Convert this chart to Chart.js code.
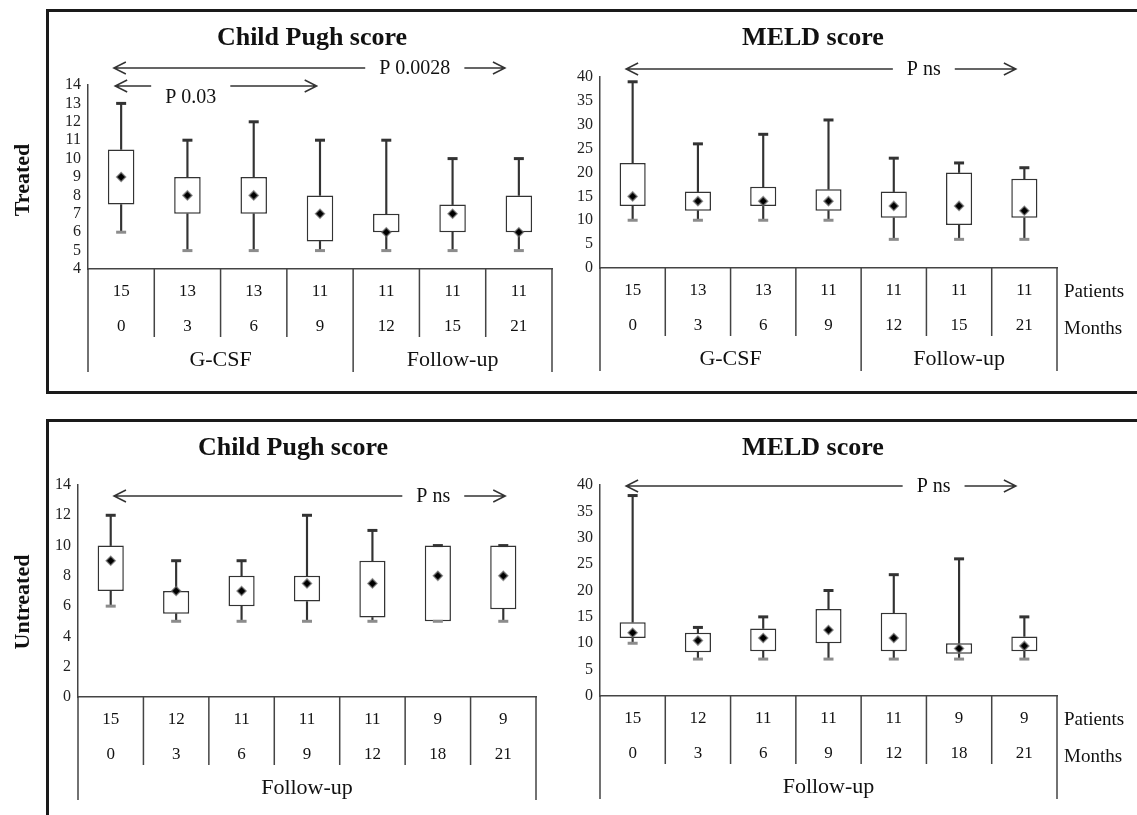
<!DOCTYPE html>
<html lang="en">
<head>
  <meta charset="UTF-8">
  <title>Child Pugh and MELD score</title>
  <script src="https://cdn.jsdelivr.net/npm/chart.js"></script>
  <style>
    body { margin: 0; width: 1137px; height: 815px; overflow: hidden; background: #fff; position: relative; font-family: "Liberation Serif", serif; color: #111; }
    .frame { position: absolute; left: 46px; width: 1110px; border: 3px solid #1a1a1a; border-right: none; }
    #frameTop { top: 9px; height: 379px; }
    #frameBottom { top: 419px; height: 420px; border-bottom: none; }
    .side { position: absolute; width: 120px; height: 26px; line-height: 26px; text-align: center; font-weight: bold; font-size: 22px; transform: rotate(-90deg); will-change: transform; }
    canvas { position: absolute; }
  </style>
</head>
<body>
  <div class="frame" id="frameTop"></div>
  <div class="frame" id="frameBottom"></div>
  <div class="side" style="left:-38px; top:167px;">Treated</div>
  <div class="side" style="left:-38px; top:589px;">Untreated</div>

  <canvas id="cpTreated" width="510" height="375" style="left:50px; top:14px;"></canvas>
  <canvas id="meldTreated" width="577" height="375" style="left:560px; top:14px;"></canvas>
  <canvas id="cpUntreated" width="510" height="385" style="left:50px; top:424px;"></canvas>
  <canvas id="meldUntreated" width="577" height="385" style="left:560px; top:424px;"></canvas>

  <script>
    // table rows
    const monthsTreated = ['0', '3', '6', '9', '12', '15', '21'];
    const patientsTreated = [15, 13, 13, 11, 11, 11, 11];
    const groupsTreated = ['G-CSF', 'Follow-up'];
    const groupSizesTreated = [4, 3];

    const monthsUntreated = ['0', '3', '6', '9', '12', '18', '21'];
    const patientsUntreated = [15, 12, 11, 11, 11, 9, 9];
    const groupsUntreated = ['Follow-up'];
    const groupSizesUntreated = [7];

    // Child Pugh, treated
    const cpTreatedMin = [6, 5, 5, 5, 5, 5, 5];
    const cpTreatedQ1 = [7.5, 7, 7, 5.5, 6, 6, 6];
    const cpTreatedQ3 = [10.5, 9, 9, 8, 7, 7.5, 8];
    const cpTreatedMax = [13, 11, 12, 11, 11, 10, 10];
    const cpTreatedMean = [9, 8, 8, 7, 6, 7, 6];

    // MELD, treated
    const meldTreatedMin = [10, 10, 10, 10, 6, 6, 6];
    const meldTreatedQ1 = [13, 12, 13, 12, 10.5, 9, 10.5];
    const meldTreatedQ3 = [22, 16, 17, 16.5, 16, 20, 18.7];
    const meldTreatedMax = [39, 26, 28, 31, 23, 22, 21];
    const meldTreatedMean = [15, 14, 14, 14, 13, 13, 12];

    // Child Pugh, untreated
    const cpUntreatedMin = [6, 5, 5, 5, 5, 5, 5];
    const cpUntreatedQ1 = [7, 5.5, 6, 6.3, 5.25, 5, 5.8];
    const cpUntreatedQ3 = [10, 7, 8, 8, 9, 10, 10];
    const cpUntreatedMax = [12, 9, 9, 12, 11, 10, 10];
    const cpUntreatedMean = [9, 7, 7, 7.5, 7.5, 8, 8];

    // MELD, untreated
    const meldUntreatedMin = [10, 7, 7, 7, 7, 7, 7];
    const meldUntreatedQ1 = [11, 8.3, 8.5, 10, 8.5, 8, 8.5];
    const meldUntreatedQ3 = [14, 12, 12.8, 16.5, 15.8, 10, 11.3];
    const meldUntreatedMax = [38, 13, 15, 20, 23, 26, 15];
    const meldUntreatedMean = [12, 10.5, 11, 12.5, 11, 9, 9.5];

    const serif = '"Liberation Serif", "Times New Roman", serif';

    function drawArrow(ctx, x1, x2, y, label, tx, textDy) {
      ctx.font = '20px ' + serif;
      const w = ctx.measureText(label).width;
      const gap = 14;
      ctx.beginPath();
      ctx.moveTo(x1, y); ctx.lineTo(tx - w / 2 - gap, y);
      ctx.moveTo(tx + w / 2 + gap, y); ctx.lineTo(x2, y);
      ctx.moveTo(x1 + 12, y - 6); ctx.lineTo(x1, y); ctx.lineTo(x1 + 12, y + 6);
      ctx.moveTo(x2 - 12, y - 6); ctx.lineTo(x2, y); ctx.lineTo(x2 - 12, y + 6);
      ctx.stroke();
      ctx.fillText(label, tx, y + textDy);
    }

    const decor = {
      id: 'decor',
      afterDraw(chart, args, o) {
        const ctx = chart.ctx;
        const xs = chart.scales.x;
        const area = chart.chartArea;
        const n = chart.data.labels.length;
        const b = area.bottom;
        ctx.save();
        ctx.fillStyle = '#111';
        ctx.strokeStyle = '#333';
        ctx.lineWidth = 1.5;
        ctx.textAlign = 'center';
        ctx.textBaseline = 'middle';

        ctx.font = 'bold 26px ' + serif;
        ctx.fillText(o.title, o.titleX, o.titleY);

        o.arrows.forEach(a => {
          drawArrow(ctx, xs.getPixelForValue(a.from), xs.getPixelForValue(a.to),
            area.top + a.dy, a.label, xs.getPixelForValue(a.at), a.textDy);
        });

        // table under the axis
        ctx.strokeStyle = '#444';
        ctx.beginPath();
        for (let i = 0; i < n - 1; i++) {
          const x = xs.getPixelForValue(i + 0.5);
          ctx.moveTo(x, b); ctx.lineTo(x, b + 68);
        }
        ctx.moveTo(xs.left, b); ctx.lineTo(xs.left, b + 103);
        let start = 0;
        ctx.font = '22px ' + serif;
        o.groups.forEach((g, k) => {
          const end = start + o.groupSizes[k];
          const xr = xs.getPixelForValue(end - 0.5);
          ctx.moveTo(xr, b); ctx.lineTo(xr, b + 103);
          ctx.fillText(g, (xs.getPixelForValue(start - 0.5) + xr) / 2, b + 91);
          start = end;
        });
        ctx.stroke();

        ctx.font = '17px ' + serif;
        for (let i = 0; i < n; i++) {
          const x = xs.getPixelForValue(i);
          ctx.fillText(String(o.patients[i]), x, b + 23);
          ctx.fillText(chart.data.labels[i], x, b + 58);
        }
        if (o.rowLabels) {
          ctx.textAlign = 'left';
          ctx.font = '19px ' + serif;
          ctx.fillText('Patients', xs.right + 7, b + 24);
          ctx.fillText('Months', xs.right + 7, b + 61);
        }
        ctx.restore();
      }
    };

    function boxDatasets(mins, q1s, q3s, maxs, means) {
      return [
        { type: 'line', data: means, showLine: false, pointStyle: 'rectRot', pointRadius: 4.5,
          pointBackgroundColor: '#000', pointBorderColor: 'rgba(110,110,110,0.7)', pointBorderWidth: 1.5, order: 0 },
        { type: 'line', data: maxs, showLine: false, pointStyle: 'line', pointRadius: 5,
          pointBorderColor: '#333', pointBorderWidth: 3, order: 1 },
        { type: 'line', data: mins, showLine: false, pointStyle: 'line', pointRadius: 5,
          pointBorderColor: '#8c8c8c', pointBorderWidth: 3, order: 1 },
        { type: 'bar', data: q1s.map((q, i) => [q, q3s[i]]), backgroundColor: '#fff', borderColor: '#333',
          borderWidth: 1.5, borderSkipped: false, barPercentage: 0.4, categoryPercentage: 1, grouped: false, order: 2 },
        { type: 'bar', data: mins.map((m, i) => [m, q1s[i]]), backgroundColor: '#333',
          barThickness: 1.5, grouped: false, order: 3 },
        { type: 'bar', data: q3s.map((q, i) => [q, maxs[i]]), backgroundColor: '#333',
          barThickness: 1.5, grouped: false, order: 3 }
      ];
    }

    function makePanel(id, labels, sets, y, pad, yWidth, decorOpts) {
      new Chart(document.getElementById(id), {
        type: 'bar',
        data: { labels: labels, datasets: boxDatasets(...sets) },
        options: {
          responsive: false,
          animation: false,
          events: [],
          layout: { padding: pad },
          plugins: { legend: { display: false }, tooltip: { enabled: false }, decor: decorOpts },
          scales: {
            x: {
              offset: true,
              grid: { display: false, drawTicks: false },
              ticks: { display: false },
              border: { color: '#444', width: 1.5 },
              afterFit: s => { s.height = 0; }
            },
            y: {
              min: y.min, max: y.max,
              ticks: { stepSize: y.step, autoSkip: false, padding: 7, color: '#222', font: { family: serif, size: 16 } },
              grid: { display: false, drawTicks: false },
              border: { color: '#444', width: 1.5 },
              afterFit: s => { s.width = yWidth; }
            }
          }
        },
        plugins: [decor]
      });
    }

    makePanel('cpTreated', monthsTreated,
      [cpTreatedMin, cpTreatedQ1, cpTreatedQ3, cpTreatedMax, cpTreatedMean],
      { min: 4, max: 14, step: 1 }, { left: 0, top: 71, right: 8, bottom: 120 }, 38,
      { title: 'Child Pugh score', titleX: 262, titleY: 24, patients: patientsTreated,
        groups: groupsTreated, groupSizes: groupSizesTreated, rowLabels: false,
        arrows: [
          { label: 'P 0.0028', from: -0.11, to: 5.79, at: 4.43, dy: -17, textDy: 1 },
          { label: 'P 0.03', from: -0.09, to: 2.95, at: 1.05, dy: 1, textDy: 12 }
        ] });

    makePanel('meldTreated', monthsTreated,
      [meldTreatedMin, meldTreatedQ1, meldTreatedQ3, meldTreatedMax, meldTreatedMean],
      { min: 0, max: 40, step: 5 }, { left: 0, top: 63, right: 80, bottom: 121 }, 40,
      { title: 'MELD score', titleX: 253, titleY: 24, patients: patientsTreated,
        groups: groupsTreated, groupSizes: groupSizesTreated, rowLabels: true,
        arrows: [{ label: 'P ns', from: -0.1, to: 5.87, at: 4.46, dy: -8, textDy: 1 }] });

    makePanel('cpUntreated', monthsUntreated,
      [cpUntreatedMin, cpUntreatedQ1, cpUntreatedQ3, cpUntreatedMax, cpUntreatedMean],
      { min: 0, max: 14, step: 2 }, { left: 0, top: 61, right: 24, bottom: 112 }, 28,
      { title: 'Child Pugh score', titleX: 243, titleY: 24, patients: patientsUntreated,
        groups: groupsUntreated, groupSizes: groupSizesUntreated, rowLabels: false,
        arrows: [{ label: 'P ns', from: 0.05, to: 6.03, at: 4.93, dy: 11, textDy: 1 }] });

    makePanel('meldUntreated', monthsUntreated,
      [meldUntreatedMin, meldUntreatedQ1, meldUntreatedQ3, meldUntreatedMax, meldUntreatedMean],
      { min: 0, max: 40, step: 5 }, { left: 0, top: 61, right: 80, bottom: 113 }, 40,
      { title: 'MELD score', titleX: 253, titleY: 24, patients: patientsUntreated,
        groups: groupsUntreated, groupSizes: groupSizesUntreated, rowLabels: true,
        arrows: [{ label: 'P ns', from: -0.1, to: 5.87, at: 4.61, dy: 1, textDy: 1 }] });
  </script>
</body>
</html>
